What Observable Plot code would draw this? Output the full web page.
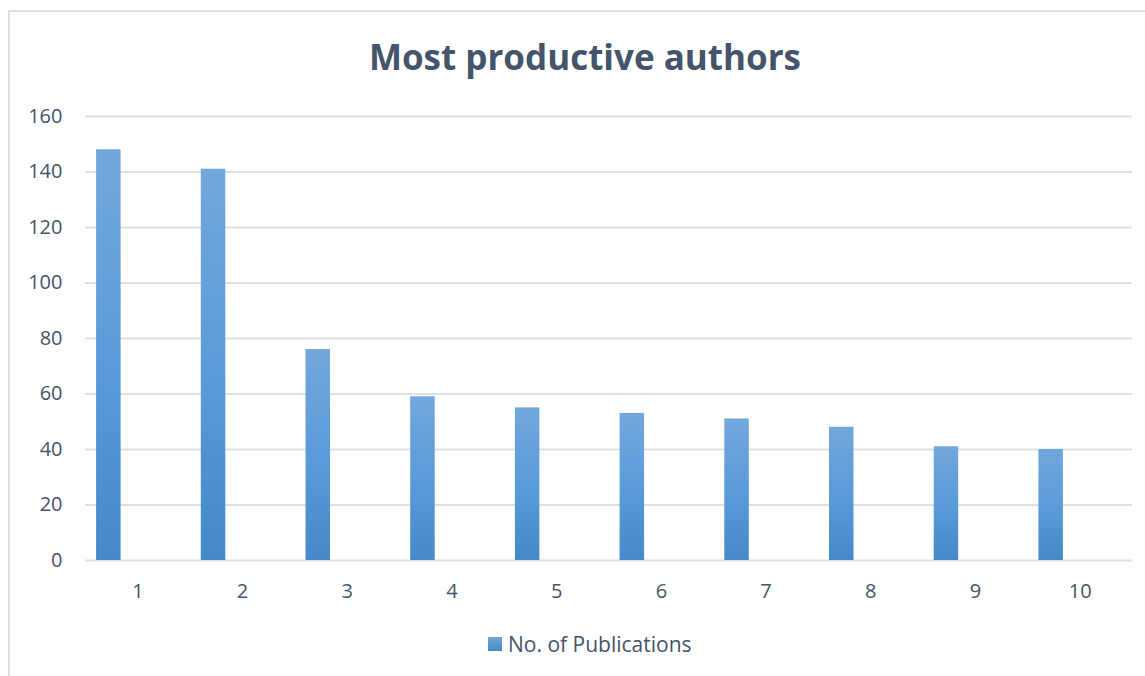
<!DOCTYPE html>
<html><head><meta charset="utf-8">
<script src="https://cdn.jsdelivr.net/npm/d3@7"></script>
<script src="https://cdn.jsdelivr.net/npm/@observablehq/plot@0.6"></script>
<style>
html,body{margin:0;padding:0;background:#fff;overflow:hidden;width:1145px;height:676px;}
#frame{position:absolute;left:8px;top:10px;width:1150px;height:680px;border:2px solid #dde1e6;box-sizing:border-box;}
#title{position:absolute;left:0;width:1170px;top:33px;text-align:center;font:bold 35px "Open Sans";color:#44546a;line-height:48px;}
#chart{position:absolute;left:0;top:0;}
#legend{position:absolute;left:488px;top:630px;height:28px;display:flex;align-items:center;font:21px "Open Sans";color:#44546a;}
#legend .sw{width:14px;height:14px;background:linear-gradient(#72a7dc,#4589c8);margin-right:6px;}
</style></head><body>
<div id="frame"></div>
<div id="title">Most productive authors</div>
<div id="chart"></div>
<div id="legend"><div class="sw"></div><span id="legendText"></span></div>
<script>
const categories = ["1","2","3","4","5","6","7","8","9","10"];
const publications = [148, 141, 76, 59, 55, 53, 51, 48, 41, 40];
const yTicks = [0, 20, 40, 60, 80, 100, 120, 140, 160];
const seriesName = "No. of Publications";

const data = categories.map((c, i) => ({cat: c, value: publications[i]}));
document.getElementById("legendText").textContent = seriesName;

const svg = Plot.plot({
  width: 1145,
  height: 620,
  marginTop: 116,
  marginBottom: 60,
  marginLeft: 85,
  marginRight: 13,
  style: {fontFamily: "Open Sans", fontSize: "20px", color: "#44546a", background: "transparent"},
  x: {type: "band", domain: categories, paddingInner: 0.766, paddingOuter: 0.383, round: false, tickSize: 0, tickPadding: 23, label: null},
  y: {domain: [0, 160], ticks: yTicks, tickSize: 0, tickPadding: 23, label: null},
  marks: [
    Plot.ruleY(yTicks, {stroke: "#dde1e6", strokeWidth: 2}),
    Plot.barY(data, {x: "cat", y: "value", fill: "url(#barGrad)", dx: -29}),
    Plot.axisX({tickSize: 0, tickPadding: 23, label: null}),
    Plot.axisY({ticks: yTicks, tickSize: 0, tickPadding: 23, label: null})
  ]
});
const ns = "http://www.w3.org/2000/svg";
const defs = document.createElementNS(ns, "defs");
const lg = document.createElementNS(ns, "linearGradient");
lg.setAttribute("id", "barGrad");
lg.setAttribute("x1", "0"); lg.setAttribute("y1", "0");
lg.setAttribute("x2", "0"); lg.setAttribute("y2", "1");
[["0%", "#72a7dc"], ["50%", "#5b9bd9"], ["100%", "#4589c8"]].forEach(([o, c]) => {
  const s = document.createElementNS(ns, "stop");
  s.setAttribute("offset", o); s.setAttribute("stop-color", c);
  lg.appendChild(s);
});
defs.appendChild(lg);
svg.insertBefore(defs, svg.firstChild);
document.getElementById("chart").appendChild(svg);
</script>
</body></html>
